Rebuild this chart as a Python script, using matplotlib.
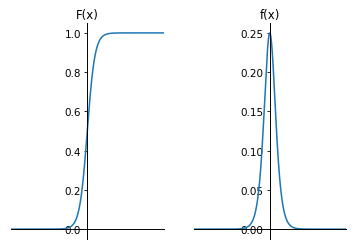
import numpy as np
import matplotlib
matplotlib.use("Agg")
import matplotlib.pyplot as plt

x_min, x_max = -20, 20
x = np.linspace(x_min, x_max, 1000)
F = 1 / (1 + np.exp(-x))
f = F * (1 - F)

titles = ["F(x)", "f(x)"]
ys = [F, f]
yticks = [[0.0, 0.2, 0.4, 0.6, 0.8, 1.0], [0.00, 0.05, 0.10, 0.15, 0.20, 0.25]]
fmts = ["{:.1f}", "{:.2f}"]

plt.rcParams['font.size'] = 7.5
fig, axes = plt.subplots(1, 2, figsize=(3.56, 2.51), dpi=100)
fig.subplots_adjust(left=0.031, right=0.972, bottom=0.044, top=0.904, wspace=0.197)

for ax, t, y, yt, fm in zip(axes, titles, ys, yticks, fmts):
    ax.plot(x, y, color='#1f77b4', lw=1.1)
    ax.set_xlim(x_min, x_max)
    ax.set_title(t, fontsize=8.5, pad=4)
    ax.spines['right'].set_visible(False)
    ax.spines['top'].set_visible(False)
    ax.spines['left'].set_position(('data', 0))
    ax.spines['bottom'].set_position(('data', 0))
    ax.spines['left'].set_linewidth(0.7)
    ax.spines['bottom'].set_linewidth(0.7)
    ax.set_xticks([])
    ax.set_yticks(yt)
    ax.set_yticklabels([fm.format(v) for v in yt])
    ax.tick_params(axis='y', length=2.5, width=0.6, pad=2, labelsize=7.5)

fig.savefig("out.png", dpi=100)
